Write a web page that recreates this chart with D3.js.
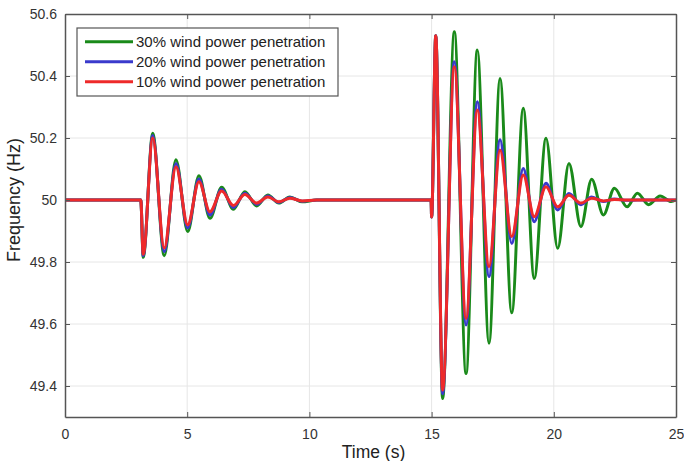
<!DOCTYPE html>
<html>
<head>
<meta charset="utf-8">
<script src="https://cdn.jsdelivr.net/npm/d3@7"></script>
<style>
  body { margin: 0; background: #fff; }
  text { font-family: "Liberation Sans", Arial, sans-serif; }
</style>
</head>
<body>
<div id="chart"></div>
<script>
// key points (peaks / troughs of the oscillations)
var time = [0, 3.1, 3.2, 3.59, 4.06, 4.54, 5.02, 5.48, 5.93, 6.41, 6.89, 7.36, 7.84, 8.3, 8.75, 9.2, 9.7, 10.3,
    14.98, 15.0, 15.17, 15.45, 15.93, 16.41, 16.87, 17.35, 17.8, 18.28, 18.75, 19.2, 19.68, 20.16, 20.62,
    21.11, 21.55, 22.03, 22.48, 23.0, 23.42, 23.88, 24.35, 24.8, 25];

var wind30 = [50.0, 50.0, 49.815, 50.215, 49.82, 50.13, 49.898, 50.078, 49.941, 50.041, 49.97, 50.027, 49.981, 50.016, 49.99, 50.01, 49.994, 50.0,
    50.0, 49.945, 50.53, 49.36, 50.543, 49.44, 50.484, 49.538, 50.392, 49.636, 50.296, 49.747, 50.199, 49.844, 50.118,
    49.914, 50.067, 49.952, 50.038, 49.978, 50.022, 49.985, 50.013, 49.995, 50.0];

var wind20 = [50.0, 50.0, 49.82, 50.208, 49.833, 50.118, 49.91, 50.068, 49.952, 50.035, 49.976, 50.022, 49.986, 50.013, 49.992, 50.008, 49.996, 50.0,
    50.0, 49.945, 50.53, 49.375, 50.446, 49.597, 50.317, 49.753, 50.194, 49.86, 50.102, 49.93, 50.054, 49.968, 50.021,
    49.985, 50.01, 49.995, 50.003, 49.999, 50.0, 50.0, 50.0, 50.0, 50.0];

var wind10 = [50.0, 50.0, 49.825, 50.2, 49.845, 50.107, 49.92, 50.059, 49.962, 50.029, 49.982, 50.018, 49.99, 50.01, 49.994, 50.006, 49.997, 50.0,
    50.0, 49.945, 50.53, 49.387, 50.43, 49.618, 50.29, 49.785, 50.161, 49.882, 50.081, 49.946, 50.043, 49.978, 50.015,
    49.99, 50.006, 49.997, 50.002, 50.0, 50.0, 50.0, 50.0, 50.0, 50.0];

var seriesNames = ["30% wind power penetration", "20% wind power penetration", "10% wind power penetration"];
var seriesColors = ["#1a8a1a", "#3a3acc", "#ee2a2a"];
var xTicks = [0, 5, 10, 15, 20, 25];
var yTicks = [49.4, 49.6, 49.8, 50, 50.2, 50.4, 50.6];

var margin = {top: 14, right: 8, bottom: 44, left: 65},
    width = 684 - margin.left - margin.right,
    height = 461 - margin.top - margin.bottom;

var svg = d3.select("#chart").append("svg")
    .attr("width", 684)
    .attr("height", 461)
    .append("g")
    .attr("transform", "translate(" + margin.left + "," + margin.top + ")");

var x = d3.scaleLinear().domain([0, 25]).range([0, width]);
var y = d3.scaleLinear().domain([49.3, 50.6]).range([height, 0]);

// grid
svg.append("g").selectAll("line").data(xTicks.slice(1, -1)).enter().append("line")
    .attr("x1", function (d) { return x(d); }).attr("x2", function (d) { return x(d); })
    .attr("y1", 0).attr("y2", height)
    .style("stroke", "#e6e6e6").style("stroke-width", 1);
svg.append("g").selectAll("line").data(yTicks.filter(function (d) { return d < 50.6; })).enter().append("line")
    .attr("y1", function (d) { return y(d); }).attr("y2", function (d) { return y(d); })
    .attr("x1", 0).attr("x2", width)
    .style("stroke", "#e6e6e6").style("stroke-width", 1);

// lines
var line = d3.line()
    .x(function (d) { return x(d[0]); })
    .y(function (d) { return y(d[1]); })
    .curve(d3.curveMonotoneX);

var allSeries = [wind30, wind20, wind10];
allSeries.forEach(function (vals, i) {
    var pts = time.map(function (t, j) { return [t, vals[j]]; });
    svg.append("path")
        .datum(pts)
        .attr("d", line)
        .style("fill", "none")
        .style("stroke", seriesColors[i])
        .style("stroke-width", 3)
        .style("stroke-linejoin", "round");
});

// axes (box with inward ticks)
function styleAxis(g) {
    g.select(".domain").style("stroke", "#555").style("stroke-width", 1.5);
    g.selectAll(".tick line").style("stroke", "#555").style("stroke-width", 1);
    g.selectAll(".tick text").style("fill", "#333").style("font-size", "14px");
}

svg.append("g")
    .attr("transform", "translate(0," + height + ")")
    .call(d3.axisBottom(x).tickValues(xTicks).tickSize(-5).tickSizeOuter(0).tickPadding(12))
    .call(styleAxis);
svg.append("g")
    .call(d3.axisLeft(y).tickValues(yTicks).tickSize(-5).tickSizeOuter(0).tickPadding(8)
        .tickFormat(function (d) { return d3.format("")(+d.toFixed(1)); }))
    .call(styleAxis);
svg.append("g")
    .call(d3.axisTop(x).tickValues(xTicks).tickSize(-5).tickSizeOuter(0).tickFormat(""))
    .call(styleAxis);
svg.append("g")
    .attr("transform", "translate(" + width + ",0)")
    .call(d3.axisRight(y).tickValues(yTicks).tickSize(-5).tickSizeOuter(0).tickFormat(""))
    .call(styleAxis);

// axis labels
svg.append("text")
    .attr("x", width / 2 + 3)
    .attr("y", height + 41)
    .attr("text-anchor", "middle")
    .style("font-size", "17.5px")
    .style("fill", "#222")
    .text("Time (s)");
svg.append("text")
    .attr("transform", "rotate(-90)")
    .attr("x", -(y(50) + 0))
    .attr("y", -45)
    .attr("text-anchor", "middle")
    .style("font-size", "18px")
    .style("fill", "#222")
    .text("Frequency (Hz)");

// legend
var legend = svg.append("g").attr("transform", "translate(12,14)");
legend.append("rect")
    .attr("width", 261).attr("height", 68)
    .style("fill", "#fff").style("stroke", "#555").style("stroke-width", 1.2);
seriesNames.forEach(function (name, i) {
    var row = legend.append("g").attr("transform", "translate(0," + (13.7 + i * 20) + ")");
    row.append("line")
        .attr("x1", 8).attr("x2", 56)
        .style("stroke", seriesColors[i]).style("stroke-width", 3);
    row.append("text")
        .attr("x", 59).attr("y", 5.5)
        .style("font-size", "15px")
        .style("fill", "#222")
        .text(name);
});
</script>
</body>
</html>
